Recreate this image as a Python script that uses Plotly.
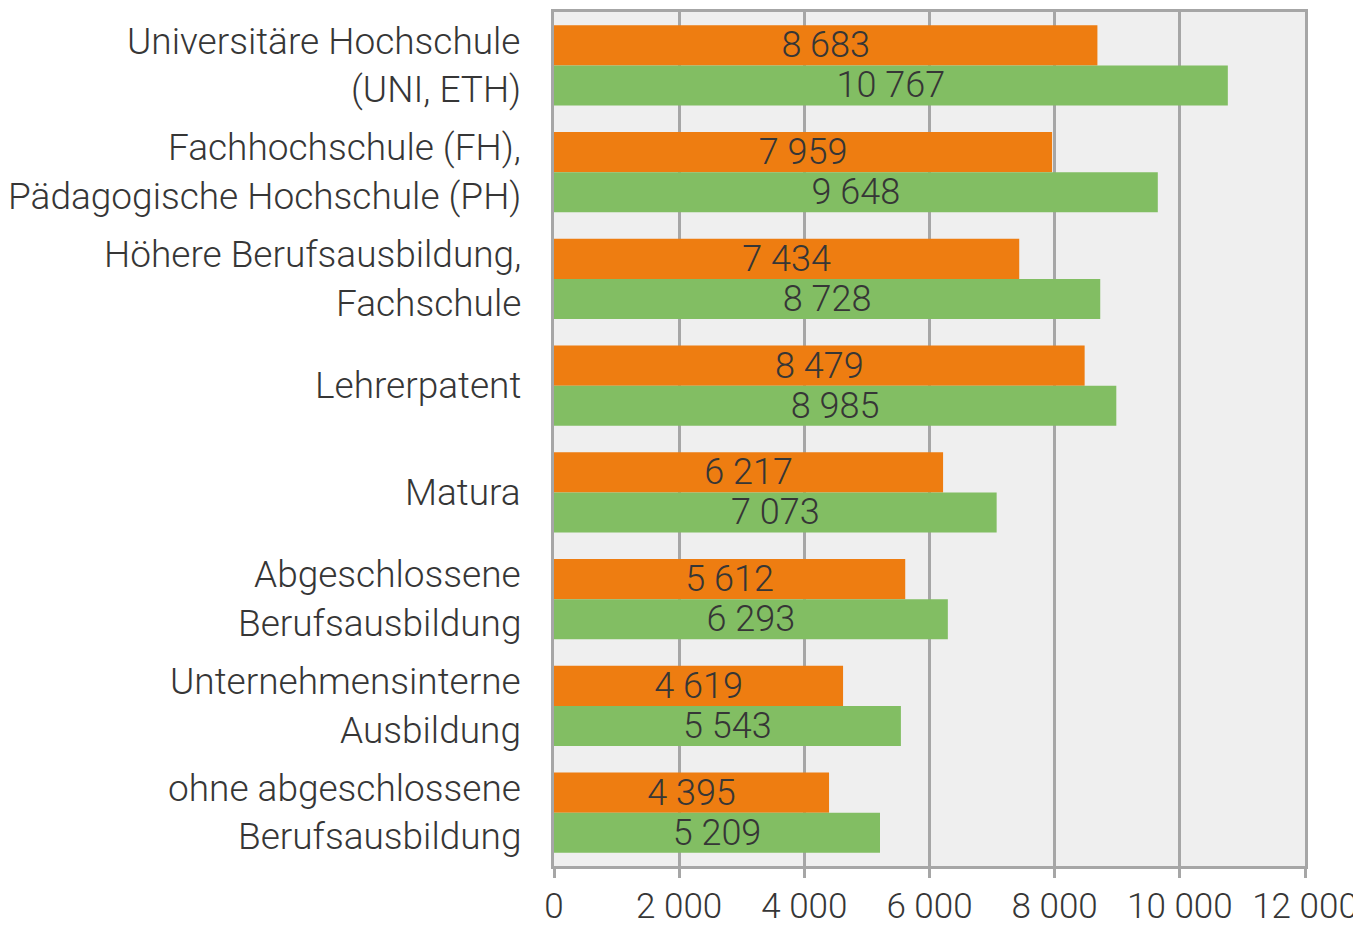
import plotly.graph_objects as go

categories = [
    "Universitäre Hochschule<br>(UNI, ETH)",
    "Fachhochschule (FH),<br>Pädagogische Hochschule (PH)",
    "Höhere Berufsausbildung,<br>Fachschule",
    "Lehrerpatent",
    "Matura",
    "Abgeschlossene<br>Berufsausbildung",
    "Unternehmensinterne<br>Ausbildung",
    "ohne abgeschlossene<br>Berufsausbildung",
]
series_orange = [8683, 7959, 7434, 8479, 6217, 5612, 4619, 4395]
series_green = [10767, 9648, 8728, 8985, 7073, 6293, 5543, 5209]
tick_values = [0, 2000, 4000, 6000, 8000, 10000, 12000]

FONT = "Roboto"
TXT = "#363636"
GRID = "#a6a6a6"
FS = 36
FS_TICK = 35
FS_CAT = 37

fig = go.Figure()
for vals, col in ((series_orange, "#ee7d11"), (series_green, "#82be63")):
    fig.add_trace(go.Bar(
        y=categories, x=vals, orientation="h",
        marker=dict(color=col, line=dict(width=0)),
        texttemplate="%{x:,d}", textposition="inside", insidetextanchor="middle",
        constraintext="none",
        textfont=dict(family=FONT, size=FS, color=TXT, weight=300),
        cliponaxis=False, showlegend=False,
    ))

annotations = []
LINE = 48.5
for cat in categories:
    lines = cat.split("<br>")
    n = len(lines)
    for i, ln in enumerate(lines):
        shift = ((n - 1) / 2 - i) * LINE
        annotations.append(dict(
            x=0, xref="paper", y=cat, yref="y", text=ln, showarrow=False,
            xanchor="right", yanchor="middle", xshift=-31, yshift=shift,
            font=dict(family=FONT, size=FS_CAT, color=TXT, weight=300),
        ))

fig.update_layout(
    width=1353, height=919,
    margin=dict(l=546, r=56, t=4, b=61, pad=0),
    paper_bgcolor="white", plot_bgcolor="#efefef",
    barmode="group", bargap=0.25, bargroupgap=0,
    separators=". ",
    uniformtext=dict(mode=False),
    annotations=annotations,
    xaxis=dict(
        range=[0, 12000], tickvals=tick_values, tickformat=",d",
        showgrid=True, gridcolor=GRID, gridwidth=3,
        showline=True, linecolor=GRID, linewidth=3, mirror=True,
        ticks="outside", ticklen=9, tickwidth=3, tickcolor=GRID,
        ticklabelstandoff=-2,
        tickfont=dict(family=FONT, size=FS_TICK, color=TXT, weight=300),
        zeroline=False, fixedrange=True, automargin=False,
    ),
    yaxis=dict(
        autorange="reversed", showticklabels=False,
        showline=True, linecolor=GRID, linewidth=3, mirror=True,
        showgrid=False, zeroline=False, fixedrange=True, automargin=False,
    ),
)
fig.write_html("out.html")
